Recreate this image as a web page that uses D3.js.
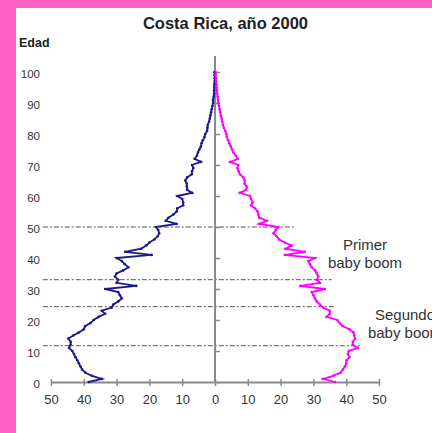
<!DOCTYPE html>
<html>
<head>
<meta charset="utf-8">
<script src="https://cdn.jsdelivr.net/npm/d3@7"></script>
<style>
  html, body { margin: 0; padding: 0; background: #ff62c3; }
  svg { display: block; }
</style>
</head>
<body>
<svg id="chart" width="432" height="433"></svg>
<script>
// Población por edad simple, Costa Rica 2000 (miles de personas)
const chartTitle = "Costa Rica, año 2000";
const yAxisTitle = "Edad";

const edades = d3.range(0, 101);

const hombres = [
  38.5, 34.5, 37.5, 39.5, 40.5, 41.0, 41.5, 42.0, 42.5, 43.0,
  43.5, 44.5, 44.0, 44.0, 44.7, 43.2, 41.5, 40.0, 39.6, 38.0,
  37.0, 35.5, 33.5, 34.5, 31.5, 31.0, 29.5, 28.4, 29.0, 29.5,
  33.5, 24.0, 30.0, 29.5, 30.5, 30.0, 28.0, 26.4, 27.5, 28.4,
  30.0, 19.3, 27.4, 22.5, 21.0, 20.0, 18.5, 17.5, 17.0, 17.3,
  18.0, 11.7, 15.0, 14.2, 12.7, 11.7, 11.5, 9.7, 9.7, 10.0,
  11.5, 7.0, 8.5, 8.6, 8.6, 9.1, 8.5, 7.1, 7.0, 6.6,
  7.0, 4.3, 6.2, 5.5, 5.2, 4.8, 4.3, 4.1, 3.7, 3.2,
  3.0, 2.4, 2.3, 2.2, 1.8, 1.6, 1.4, 1.2, 1.0, 0.8,
  0.6, 0.6, 0.4, 0.3, 0.3, 0.2, 0.2, 0.1, 0.1, 0.1,
  0.2
];

const mujeres = [
  36.6, 33.0, 36.0, 38.3, 39.0, 39.6, 40.0, 40.1, 41.0, 40.5,
  40.8, 43.5, 42.0, 42.0, 42.7, 42.5, 42.2, 41.0, 39.0, 38.0,
  37.3, 34.0, 35.0, 35.0, 33.0, 32.0, 31.0, 30.5, 30.0, 29.5,
  33.5, 26.0, 32.0, 31.0, 31.5, 31.0, 30.5, 29.5, 29.0, 28.4,
  30.5, 21.3, 27.4, 21.5, 23.4, 21.3, 19.5, 18.8, 17.8, 18.5,
  19.3, 13.5, 15.8, 13.5, 13.2, 13.0, 12.2, 11.0, 11.5, 11.0,
  10.7, 7.6, 9.5, 9.7, 9.0, 9.1, 8.6, 7.6, 7.2, 6.8,
  7.1, 4.6, 7.0, 6.4, 5.6, 5.2, 4.8, 4.4, 4.0, 3.6,
  3.5, 3.1, 2.7, 2.4, 2.2, 2.0, 1.8, 1.6, 1.4, 1.2,
  1.0, 0.9, 0.8, 0.7, 0.6, 0.5, 0.4, 0.3, 0.3, 0.2,
  0.2
];

const xTickValues = [-50, -40, -30, -20, -10, 0, 10, 20, 30, 40, 50];
const yTickValues = [0, 10, 20, 30, 40, 50, 60, 70, 80, 90, 100];

// Líneas de referencia de las cohortes (edad, extremo izquierdo, extremo derecho)
const cortesEdad = [50, 33, 24.3, 11.7];
const cortesIzq = [52.5, 52.5, 52.5, 52.5];
const cortesDer = [24.4, 35.6, 36.6, 44.7];

const notaPrimer = ["Primer", "baby boom"];
const notaSegundo = ["Segundo", "baby boom"];

const svg = d3.select("#chart");

// Fondo blanco del área del gráfico
svg.append("rect")
  .attr("x", 16).attr("y", 8)
  .attr("width", 416).attr("height", 425)
  .attr("fill", "#ffffff");

const x = d3.scaleLinear().domain([-50, 50]).range([51, 379]);
const y = d3.scaleLinear().domain([0, 100]).range([382, 72]);

const axisColor = "#8a8a8a";
const textColor = "#333333";
const font = "Liberation Sans, Arial, sans-serif";

// Título
svg.append("text")
  .attr("x", 225.5).attr("y", 29)
  .attr("text-anchor", "middle")
  .attr("font-family", font)
  .attr("font-weight", "bold")
  .attr("font-size", 16.5)
  .attr("fill", "#222")
  .text(chartTitle);

svg.append("text")
  .attr("x", 19).attr("y", 46.5)
  .attr("font-family", font)
  .attr("font-weight", "bold")
  .attr("font-size", 12.5)
  .attr("fill", "#222")
  .text(yAxisTitle);

// Líneas punteadas de referencia
const cortes = cortesEdad.map((e, i) => ({ edad: e, izq: cortesIzq[i], der: cortesDer[i] }));
svg.append("g").selectAll("line")
  .data(cortes)
  .join("line")
  .attr("x1", d => x(-d.izq))
  .attr("x2", d => x(d.der))
  .attr("y1", d => y(d.edad))
  .attr("y2", d => y(d.edad))
  .attr("stroke", "#555")
  .attr("stroke-width", 1)
  .attr("stroke-dasharray", "5,2,2,2");

// Eje X
const xAxis = d3.axisBottom(x)
  .tickValues(xTickValues)
  .tickFormat(d => Math.abs(d))
  .tickSizeInner(4)
  .tickSizeOuter(0)
  .tickPadding(9);

const gx = svg.append("g")
  .attr("transform", `translate(0,${y(0)})`)
  .call(xAxis);
gx.select(".domain").attr("stroke", axisColor).attr("stroke-width", 2);
gx.selectAll(".tick line").attr("stroke", axisColor).attr("stroke-width", 1.5).attr("y1", -3);
gx.selectAll(".tick text")
  .attr("font-family", font)
  .attr("font-size", 13)
  .attr("fill", textColor);

// Eje Y: línea central con marcas hacia la derecha
const gy = svg.append("g")
  .attr("transform", `translate(${x(0)},0)`)
  .call(d3.axisRight(y).tickValues(yTickValues).tickSize(5).tickFormat(""));
gy.select(".domain").remove();
gy.selectAll(".tick line").attr("stroke", axisColor).attr("stroke-width", 1.5);
svg.append("line")
  .attr("x1", x(0)).attr("x2", x(0))
  .attr("y1", 56).attr("y2", y(0))
  .attr("stroke", axisColor)
  .attr("stroke-width", 2);

// Etiquetas del eje Y
const gyl = svg.append("g")
  .attr("transform", "translate(40,1.5)")
  .call(d3.axisLeft(y).tickValues(yTickValues).tickSize(0).tickPadding(0));
gyl.select(".domain").remove();
gyl.selectAll(".tick text")
  .attr("font-family", font)
  .attr("font-size", 11.5)
  .attr("fill", textColor);

// Curvas de población
const lineaH = d3.line().x(d => x(-d.v)).y(d => y(d.edad));
const lineaM = d3.line().x(d => x(d.v)).y(d => y(d.edad));
const datosH = edades.map((e, i) => ({ edad: e, v: hombres[i] }));
const datosM = edades.map((e, i) => ({ edad: e, v: mujeres[i] }));

const colorH = "#1a1a8c";
const colorM = "#ff00ff";

svg.append("path")
  .datum(datosH)
  .attr("fill", "none")
  .attr("stroke", colorH)
  .attr("stroke-width", 1.8)
  .attr("d", lineaH);
svg.append("g").selectAll("circle")
  .data(datosH)
  .join("circle")
  .attr("cx", d => x(-d.v))
  .attr("cy", d => y(d.edad))
  .attr("r", 1.3)
  .attr("fill", colorH);

svg.append("path")
  .datum(datosM)
  .attr("fill", "none")
  .attr("stroke", colorM)
  .attr("stroke-width", 1.8)
  .attr("d", lineaM);
svg.append("g").selectAll("circle")
  .data(datosM)
  .join("circle")
  .attr("cx", d => x(d.v))
  .attr("cy", d => y(d.edad))
  .attr("r", 1.3)
  .attr("fill", colorM);

// Anotaciones
function nota(lineas, cx, yBase) {
  const t = svg.append("text")
    .attr("text-anchor", "middle")
    .attr("font-family", font)
    .attr("font-size", 15)
    .attr("fill", textColor);
  lineas.forEach((l, i) => {
    t.append("tspan").attr("x", cx).attr("y", yBase + i * 17.5).text(l);
  });
}
nota(notaPrimer, 365, 250);
nota(notaSegundo, 405, 320);
</script>
</body>
</html>
